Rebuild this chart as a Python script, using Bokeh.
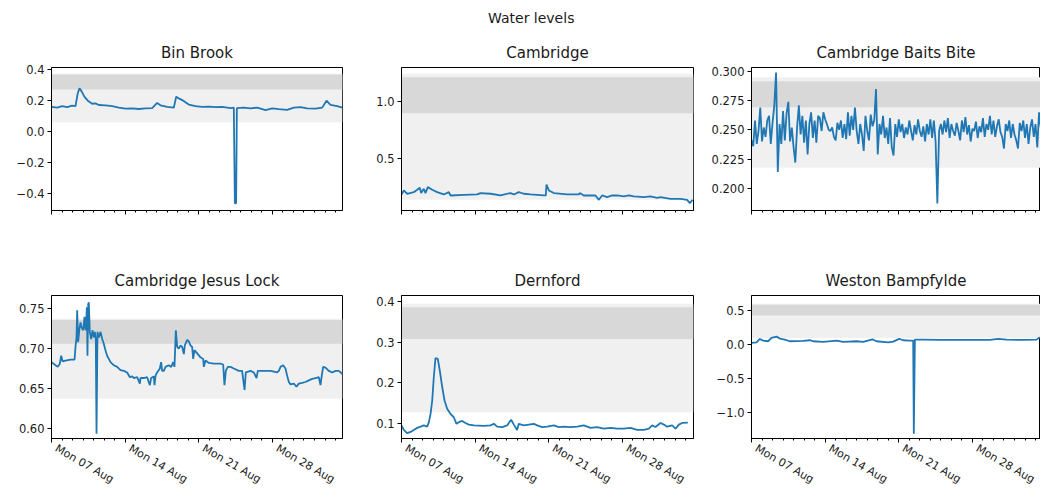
import math
import numpy as np
import pandas as pd
from bokeh.plotting import figure
from bokeh.layouts import column, row
from bokeh.models import (Div, Range1d, FixedTicker, BoxAnnotation, DatetimeTickFormatter,
                          DatetimeAxis)
from bokeh.embed import file_html
from bokeh.resources import INLINE

START = pd.Timestamp("2017-08-07")

# ---------------- data (days since Mon 07 Aug 2017, level in m) ----------------
binbrook_days = [0.00, 0.54, 1.01, 1.49, 1.96, 2.28, 2.50, 2.66, 2.85, 3.14, 3.45, 3.87, 4.18, 4.50,
                 5.13, 5.77, 6.40, 7.03, 7.67, 8.30, 8.94, 9.57, 10.04, 10.36, 11.00, 11.63, 11.85,
                 12.10, 12.52, 13.05, 13.69, 14.32, 14.96, 15.59, 16.22, 17.02, 17.33, 17.43, 17.55,
                 17.62, 18.28, 18.92, 19.55, 20.34, 20.98, 21.61, 22.40, 23.04, 23.67, 24.30, 25.10,
                 25.73, 26.14, 26.52, 27.15, 27.66]
binbrook_level = [0.160, 0.155, 0.165, 0.158, 0.168, 0.165, 0.250, 0.280, 0.262, 0.225, 0.200, 0.180,
                  0.182, 0.172, 0.170, 0.165, 0.155, 0.148, 0.150, 0.146, 0.150, 0.152, 0.185, 0.170,
                  0.160, 0.155, 0.225, 0.215, 0.200, 0.175, 0.165, 0.160, 0.162, 0.158, 0.160, 0.152,
                  0.155, -0.465, -0.465, 0.152, 0.155, 0.150, 0.155, 0.138, 0.150, 0.145, 0.140, 0.155,
                  0.158, 0.150, 0.148, 0.155, 0.200, 0.172, 0.165, 0.155]

cambridge_days = [0.00, 0.22, 0.54, 1.17, 1.49, 1.74, 1.87, 2.12, 2.28, 2.50, 2.92, 3.39, 4.02, 4.50,
                  4.66, 5.93, 7.19, 7.51, 8.46, 9.41, 10.36, 10.68, 11.15, 11.63, 12.26, 13.53, 13.72,
                  13.78, 14.01, 14.48, 15.75, 16.86, 16.95, 17.33, 18.44, 18.76, 19.07, 19.55, 20.02,
                  20.50, 21.13, 21.61, 22.08, 23.04, 23.67, 24.30, 24.62, 25.57, 26.52, 27.15, 27.41,
                  27.66]
cambridge_level = [0.189, 0.224, 0.195, 0.209, 0.230, 0.247, 0.201, 0.238, 0.201, 0.253, 0.230, 0.209,
                   0.189, 0.209, 0.180, 0.186, 0.189, 0.201, 0.195, 0.180, 0.201, 0.189, 0.209, 0.195,
                   0.189, 0.180, 0.182, 0.276, 0.224, 0.201, 0.189, 0.189, 0.201, 0.180, 0.180, 0.142,
                   0.180, 0.166, 0.180, 0.180, 0.172, 0.180, 0.172, 0.166, 0.172, 0.160, 0.166, 0.151,
                   0.151, 0.142, 0.113, 0.142]

# Baits Bite: one reading every 4 hours from Mon 07 Aug 00:00
baits_level = [0.241, 0.236, 0.258, 0.238, 0.249, 0.269, 0.240, 0.252, 0.244, 0.258, 0.262, 0.238,
               0.256, 0.271, 0.299, 0.214, 0.255, 0.238, 0.266, 0.241, 0.264, 0.274, 0.240, 0.252,
               0.235, 0.222, 0.252, 0.271, 0.246, 0.262, 0.239, 0.258, 0.229, 0.255, 0.265, 0.243,
               0.258, 0.239, 0.262, 0.260, 0.249, 0.265, 0.259, 0.255, 0.250, 0.249, 0.252, 0.244,
               0.241, 0.256, 0.250, 0.258, 0.243, 0.255, 0.242, 0.265, 0.245, 0.262, 0.250, 0.269,
               0.249, 0.238, 0.255, 0.246, 0.232, 0.262, 0.249, 0.241, 0.263, 0.253, 0.258, 0.285,
               0.229, 0.255, 0.246, 0.262, 0.243, 0.252, 0.238, 0.260, 0.235, 0.228, 0.255, 0.244,
               0.259, 0.248, 0.255, 0.243, 0.252, 0.246, 0.258, 0.249, 0.241, 0.254, 0.246, 0.259,
               0.249, 0.244, 0.253, 0.240, 0.255, 0.246, 0.259, 0.243, 0.258, 0.240, 0.187, 0.249,
               0.255, 0.246, 0.258, 0.248, 0.260, 0.243, 0.255, 0.249, 0.245, 0.256, 0.249, 0.241,
               0.258, 0.248, 0.261, 0.246, 0.254, 0.240, 0.251, 0.249, 0.257, 0.243, 0.253, 0.248,
               0.260, 0.244, 0.255, 0.250, 0.262, 0.246, 0.258, 0.244, 0.253, 0.259, 0.248, 0.244,
               0.234, 0.255, 0.249, 0.258, 0.243, 0.255, 0.246, 0.241, 0.234, 0.256, 0.249, 0.258,
               0.243, 0.255, 0.238, 0.252, 0.259, 0.244, 0.255, 0.235, 0.265, 0.252]
baits_step_hours = 4

jesus_days = [0.00, 0.38, 0.60, 0.79, 0.92, 1.05, 1.33, 1.81, 2.19, 2.28, 2.38, 2.44, 2.53, 2.66, 2.76,
              2.85, 3.01, 3.14, 3.23, 3.30, 3.36, 3.42, 3.49, 3.55, 3.64, 3.77, 3.90, 4.02, 4.12, 4.21,
              4.28, 4.37, 4.50, 4.66, 4.82, 4.97, 5.13, 5.29, 5.45, 5.61, 5.93, 6.24, 6.56, 6.88, 7.19,
              7.45, 7.67, 7.83, 8.14, 8.40, 8.46, 8.78, 9.09, 9.35, 9.47, 9.73, 9.79, 9.89, 10.04,
              10.30, 10.42, 10.52, 10.68, 10.84, 11.15, 11.38, 11.57, 11.69, 11.82, 11.95, 12.10,
              12.26, 12.42, 12.58, 12.67, 12.90, 13.05, 13.21, 13.37, 13.47, 13.59, 13.85, 14.16,
              14.42, 14.48, 14.64, 14.96, 15.43, 16.06, 16.32, 16.44, 16.57, 16.76, 17.02, 17.33,
              17.81, 18.12, 18.35, 18.47, 18.92, 19.23, 19.49, 19.61, 20.18, 20.82, 21.45, 21.61,
              21.77, 22.02, 22.24, 22.40, 22.56, 22.72, 23.04, 23.29, 23.51, 23.83, 24.14, 24.46,
              24.78, 25.10, 25.41, 25.57, 25.67, 25.82, 26.05, 26.36, 26.68, 27.00, 27.31, 27.66]
jesus_level = [0.683, 0.679, 0.677, 0.681, 0.691, 0.684, 0.685, 0.686, 0.686, 0.702, 0.714, 0.748,
               0.708, 0.725, 0.733, 0.727, 0.723, 0.740, 0.723, 0.731, 0.752, 0.691, 0.756, 0.758,
               0.721, 0.712, 0.723, 0.714, 0.721, 0.712, 0.593, 0.721, 0.714, 0.721, 0.712, 0.706,
               0.698, 0.691, 0.687, 0.683, 0.679, 0.677, 0.673, 0.672, 0.670, 0.664, 0.665, 0.663,
               0.664, 0.656, 0.663, 0.663, 0.664, 0.654, 0.663, 0.665, 0.654, 0.666, 0.670, 0.675,
               0.683, 0.672, 0.672, 0.677, 0.679, 0.677, 0.683, 0.677, 0.723, 0.702, 0.700, 0.704,
               0.702, 0.693, 0.704, 0.711, 0.709, 0.704, 0.702, 0.687, 0.698, 0.694, 0.689, 0.687,
               0.677, 0.685, 0.682, 0.681, 0.681, 0.680, 0.654, 0.672, 0.677, 0.677, 0.675, 0.672,
               0.672, 0.648, 0.670, 0.672, 0.670, 0.663, 0.672, 0.672, 0.672, 0.670, 0.672, 0.677,
               0.679, 0.675, 0.666, 0.658, 0.655, 0.656, 0.652, 0.656, 0.657, 0.658, 0.660, 0.662,
               0.663, 0.664, 0.654, 0.664, 0.677, 0.676, 0.672, 0.670, 0.672, 0.672, 0.668]

dernford_days = [0.00, 0.22, 0.54, 0.86, 1.17, 1.49, 1.81, 2.12, 2.44, 2.60, 2.76, 2.92, 3.07, 3.23,
                 3.45, 3.64, 3.87, 4.09, 4.34, 4.66, 4.97, 5.23, 5.45, 5.77, 6.08, 6.40, 6.88, 7.83,
                 8.46, 8.78, 9.09, 9.57, 10.04, 10.42, 10.68, 10.99, 11.15, 11.63, 12.10, 12.58, 12.90,
                 13.37, 13.85, 14.48, 14.96, 15.43, 16.06, 16.70, 17.33, 17.97, 18.60, 19.23, 19.87,
                 20.50, 21.13, 21.77, 22.40, 23.04, 23.51, 23.83, 24.14, 24.62, 24.94, 25.25, 25.73,
                 26.05, 26.36, 26.68, 27.22]
dernford_level = [0.096, 0.085, 0.077, 0.080, 0.085, 0.090, 0.093, 0.096, 0.093, 0.104, 0.124, 0.157,
                  0.214, 0.261, 0.259, 0.230, 0.190, 0.157, 0.137, 0.124, 0.116, 0.100, 0.104, 0.107,
                  0.102, 0.098, 0.096, 0.095, 0.096, 0.100, 0.093, 0.092, 0.096, 0.110, 0.098, 0.085,
                  0.100, 0.096, 0.098, 0.100, 0.096, 0.092, 0.093, 0.096, 0.092, 0.093, 0.092, 0.093,
                  0.096, 0.090, 0.092, 0.088, 0.090, 0.088, 0.088, 0.090, 0.085, 0.085, 0.088, 0.096,
                  0.092, 0.102, 0.098, 0.093, 0.096, 0.088, 0.098, 0.102, 0.103]

weston_days = [0.00, 0.48, 0.79, 1.11, 1.58, 1.90, 2.38, 2.69, 3.17, 3.64, 4.91, 5.54, 5.86, 6.81,
               8.08, 8.71, 9.98, 10.61, 11.50, 11.88, 12.99, 13.47, 14.04, 14.42, 15.05, 15.37, 15.43,
               15.53, 16.32, 17.90, 19.49, 21.07, 22.66, 23.45, 24.24, 25.82, 27.09, 27.41]
weston_level = [0.024, 0.034, 0.083, 0.059, 0.049, 0.098, 0.117, 0.088, 0.073, 0.049, 0.054, 0.064,
                0.049, 0.039, 0.059, 0.039, 0.049, 0.039, 0.078, 0.049, 0.034, 0.044, 0.083, 0.064,
                0.059, 0.059, -1.309, 0.073, 0.073, 0.068, 0.068, 0.068, 0.068, 0.083, 0.073, 0.068,
                0.073, 0.107]

# grey bands: [low, high] of the wide light band and of the darker upper band
binbrook_bands = [0.060, 0.374, 0.272, 0.370]
cambridge_bands = [0.143, 1.241, 0.898, 1.212]
baits_bands = [0.2175, 0.2951, 0.2694, 0.2916]
jesus_bands = [0.637, 0.7374, 0.7061, 0.736]
dernford_bands = [0.128, 0.3936, 0.3075, 0.385]
weston_bands = [0.095, 0.598, 0.427, 0.584]

# y axis ranges, ticks and tick labels
binbrook_yrange = [-0.512, 0.415]
cambridge_yrange = [0.049, 1.296]
baits_yrange = [0.1809, 0.3034]
jesus_yrange = [0.587, 0.7667]
dernford_yrange = [0.064, 0.414]
weston_yrange = [-1.377, 0.72]

binbrook_yticks = [-0.4, -0.2, 0.0, 0.2, 0.4]
binbrook_ylabels = ["\u22120.4", "\u22120.2", "0.0", "0.2", "0.4"]
cambridge_yticks = [0.5, 1.0]
cambridge_ylabels = ["0.5", "1.0"]
baits_yticks = [0.200, 0.225, 0.250, 0.275, 0.300]
baits_ylabels = ["0.200", "0.225", "0.250", "0.275", "0.300"]
jesus_yticks = [0.60, 0.65, 0.70, 0.75]
jesus_ylabels = ["0.60", "0.65", "0.70", "0.75"]
dernford_yticks = [0.1, 0.2, 0.3, 0.4]
dernford_ylabels = ["0.1", "0.2", "0.3", "0.4"]
weston_yticks = [-1.0, -0.5, 0.0, 0.5]
weston_ylabels = ["\u22121.0", "\u22120.5", "0.0", "0.5"]

week_offsets = [0, 7, 14, 21]
week_labels = ["Mon 07 Aug", "Mon 14 Aug", "Mon 21 Aug", "Mon 28 Aug"]

stations = ["Bin Brook", "Cambridge", "Cambridge Baits Bite",
            "Cambridge Jesus Lock", "Dernford", "Weston Bampfylde"]

# ---------------- layout ----------------
FONT = "DejaVu Sans"
TXT = "#1a1a1a"
LINE = "#1f77b4"
LIGHT = "#f0f0f0"
DARK = "#d8d8d8"
PX_PER_DAY = 10.52
LABEL_SHIFT_PX = 4.5

col_w = [372, 334, 334]
col_l = [51, 29, 45]
col_r = [30, 13, 0]
row_h = [232, 230]
row_t = [35, 31]
row_b = [54, 56]


def to_ms(ts):
    return ts.value / 1e6


week_ms = [to_ms(START + pd.Timedelta(days=d)) for d in week_offsets]
label_ms = [to_ms(START + pd.Timedelta(days=d + LABEL_SHIFT_PX / PX_PER_DAY)) for d in week_offsets]
day_ms = [to_ms(START + pd.Timedelta(days=d)) for d in range(0, 30)]


def panel(name, days, level, bands, yr, yticks, ylabels, ci, ri):
    frame_w = col_w[ci] - col_l[ci] - col_r[ci]
    xr = Range1d(start=START, end=START + pd.Timedelta(days=frame_w / PX_PER_DAY))
    p = figure(width=col_w[ci], height=row_h[ri], x_axis_type="datetime",
               x_range=xr, y_range=Range1d(yr[0], yr[1]),
               output_backend="svg", toolbar_location=None, tools="",
               min_border_left=col_l[ci], min_border_right=col_r[ci],
               min_border_top=row_t[ri], min_border_bottom=row_b[ri])
    p.xgrid.visible = False
    p.ygrid.visible = False
    p.background_fill_color = "white"
    p.border_fill_color = "white"
    p.outline_line_color = "black"
    p.outline_line_width = 1
    p.outline_line_alpha = 1

    p.add_layout(BoxAnnotation(bottom=bands[0], top=bands[1], fill_color=LIGHT, fill_alpha=1,
                               line_color=None, level="underlay"))
    p.add_layout(BoxAnnotation(bottom=bands[2], top=bands[3], fill_color=DARK, fill_alpha=1,
                               line_color=None, level="underlay"))

    x = (START + pd.to_timedelta(np.asarray(days, dtype=float), unit="D")).values
    p.line(x, level, line_color=LINE, line_width=1.8)

    p.title.text = name
    p.title.align = "center"
    p.title.text_font = FONT
    p.title.text_font_size = "15px"
    p.title.text_font_style = "normal"
    p.title.text_color = TXT
    p.title.standoff = 11

    for ax in (p.xaxis[0], p.yaxis[0]):
        ax.axis_line_color = "black"
        ax.major_tick_line_color = "black"
        ax.minor_tick_line_color = "black"
        ax.major_tick_in = 0
        ax.major_tick_out = 4
        ax.minor_tick_in = 0
        ax.major_label_text_font = FONT
        ax.major_label_text_font_size = "11.5px"
        ax.major_label_text_color = TXT

    xa = p.xaxis[0]
    xa.ticker = FixedTicker(ticks=week_ms, minor_ticks=day_ms)
    xa.minor_tick_out = 2
    xa.formatter = DatetimeTickFormatter(days="%a %d %b", months="%a %d %b")
    xa.major_label_overrides = {t: "" for t in week_ms}
    xa.major_label_standoff = 0
    if ri == 1:
        # rotated date labels hung just right of / below each weekly tick
        lab = DatetimeAxis(ticker=FixedTicker(ticks=label_ms, minor_ticks=[]),
                           formatter=DatetimeTickFormatter(days="%a %d %b", months="%a %d %b"),
                           major_label_overrides={t: l for t, l in zip(label_ms, week_labels)},
                           axis_line_color=None, major_tick_line_color=None,
                           minor_tick_line_color=None, major_tick_in=0, major_tick_out=0,
                           minor_tick_in=0, minor_tick_out=0,
                           major_label_orientation=-math.pi / 6, major_label_standoff=5,
                           major_label_text_font=FONT, major_label_text_font_size="11px",
                           major_label_text_color=TXT)
        p.add_layout(lab, "below")

    ya = p.yaxis[0]
    ya.ticker = FixedTicker(ticks=yticks, minor_ticks=[])
    ya.minor_tick_out = 0
    ya.major_label_standoff = 3
    ya.major_label_overrides = {t: l for t, l in zip(yticks, ylabels)}
    return p


baits_days = [i * baits_step_hours / 24 for i in range(len(baits_level))]

figs = [
    panel(stations[0], binbrook_days, binbrook_level, binbrook_bands, binbrook_yrange,
          binbrook_yticks, binbrook_ylabels, 0, 0),
    panel(stations[1], cambridge_days, cambridge_level, cambridge_bands, cambridge_yrange,
          cambridge_yticks, cambridge_ylabels, 1, 0),
    panel(stations[2], baits_days, baits_level, baits_bands, baits_yrange,
          baits_yticks, baits_ylabels, 2, 0),
    panel(stations[3], jesus_days, jesus_level, jesus_bands, jesus_yrange,
          jesus_yticks, jesus_ylabels, 0, 1),
    panel(stations[4], dernford_days, dernford_level, dernford_bands, dernford_yrange,
          dernford_yticks, dernford_ylabels, 1, 1),
    panel(stations[5], weston_days, weston_level, weston_bands, weston_yrange,
          weston_yticks, weston_ylabels, 2, 1),
]

title = Div(text='<div style="font-family:\'DejaVu Sans\';font-size:14px;line-height:22px;'
                 'position:relative;top:2px;text-indent:483px;color:#1a1a1a;white-space:nowrap;">'
                 'Water levels</div>',
            width=sum(col_w), height=22)

layout = column(title, row(figs[0], figs[1], figs[2], spacing=0),
                row(figs[3], figs[4], figs[5], spacing=0), spacing=0)

open("out.html", "w").write(file_html(layout, INLINE))
